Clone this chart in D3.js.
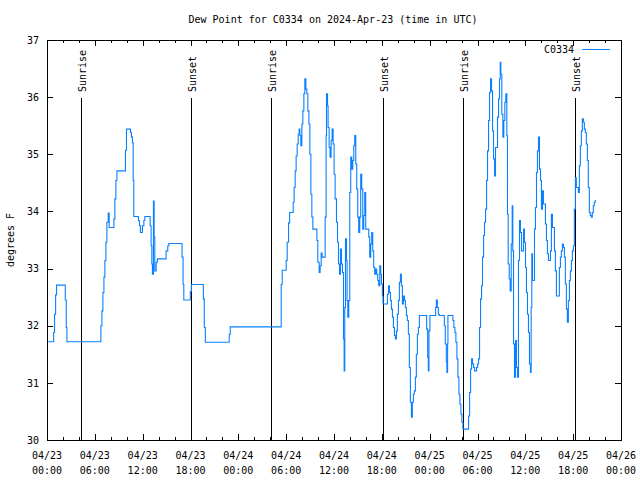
<!DOCTYPE html>
<html><head><meta charset="utf-8">
<script src="https://cdn.jsdelivr.net/npm/d3@7"></script>
<style>
body{margin:0;background:#fff}
text{font-family:"DejaVu Sans Mono",monospace;font-size:10px;fill:#000}
</style>
</head><body><svg id="c" width="640" height="480"></svg>
<script>
// hours since 2024-04-23 00:00 UTC, dew point in °F (step changes)
const hours = [
0.16,0.83,0.95,1.08,1.20,2.29,2.42,2.50,6.76,6.89,7.01,7.14,7.26,7.39,7.51,7.68,7.80,8.39,8.51,8.64,8.77,9.84,9.97,10.47,10.59,10.72,10.81,10.89,11.47,11.60,11.72,11.97,12.15,12.27,12.94,13.06,13.15,13.22,13.35,13.44,13.52,13.69,13.85,14.94,15.15,15.28,16.94,17.07,17.16,17.98,18.11,
19.61,19.73,19.86,22.86,22.99,29.38,29.50,30.00,30.13,30.30,30.43,30.88,31.00,31.13,31.25,31.38,31.51,31.63,31.72,31.84,31.97,32.09,32.22,32.34,32.47,32.59,32.72,32.85,32.97,33.10,33.22,33.35,33.85,33.97,34.14,34.26,34.39,34.51,34.89,35.01,35.06,35.19,35.26,35.39,35.51,35.64,35.76,35.89,36.01,36.14,36.31,36.44,36.56,36.69,36.81,36.94,37.06,37.19,37.27,37.35,37.44,37.57,37.64,37.73,37.85,37.98,38.10,38.23,38.35,38.48,38.60,38.73,38.85,38.98,39.10,39.23,39.35,39.48,39.61,39.73,39.86,39.98,40.36,40.48,40.61,40.73,40.86,40.98,41.11,41.23,41.36,41.49,41.61,41.74,41.86,41.95,42.07,42.15,42.70,42.83,42.95,43.08,43.20,43.33,43.45,43.58,43.70,43.83,43.95,44.08,44.20,44.33,44.45,44.58,44.70,44.83,44.95,45.08,45.20,45.33,45.45,45.58,45.71,45.83,45.96,46.08,46.21,46.33,46.46,46.58,46.71,47.62,47.75,47.83,47.91,48.03,48.75,48.84,48.96,49.09,49.21,
49.84,49.96,50.09,50.16,50.25,50.29,50.92,51.04,51.17,51.29,51.42,51.54,51.67,51.79,51.92,52.04,52.17,52.88,53.01,53.13,53.26,53.38,53.51,53.63,53.88,54.01,54.13,54.26,54.38,54.51,54.63,54.76,54.88,55.01,55.14,55.26,55.39,55.51,55.64,55.76,55.89,56.01,56.14,56.26,56.51,56.64,56.76,56.85,56.93,57.05,57.18,57.30,57.43,57.55,57.68,57.76,57.85,57.98,58.10,58.23,58.35,58.43,58.52,58.64,58.77,58.89,59.02,59.14,59.27,59.39,59.52,59.77,59.89,60.02,60.14,60.27,60.39,60.52,60.64,60.73,60.81,60.90,61.15,61.27,61.40,61.52,61.65,61.77,61.90,62.02,62.15,62.27,62.52,62.65,62.77,62.90,63.15,63.27,63.40,63.65,63.77,63.90,64.27,64.40,64.52,64.65,64.77,64.90,65.02,65.15,65.27,65.40,65.53,65.65,65.78,65.90,66.03,66.15,66.28,66.40,66.65,66.78,66.90,67.03,67.15,67.28,67.40,67.53,67.65,67.78,67.90,68.03,68.15,68.28,68.40,68.53,68.65,68.78
];
const dewPointF = [
31.72,31.88,32.2,32.54,32.71,32.45,31.97,31.72,32.0,32.26,32.58,32.85,33.14,33.46,33.81,33.97,33.72,33.87,34.22,34.54,34.71,35.07,35.44,35.38,35.3,35.2,34.54,33.91,33.84,33.75,33.63,33.75,33.84,33.91,33.75,33.4,33.08,32.9,34.18,33.55,32.96,33.11,33.17,33.31,33.4,33.44,33.2,32.72,32.45,32.6,32.72,
32.47,31.97,31.71,31.85,31.98,32.72,32.97,33.14,33.46,33.8,33.98,34.16,34.42,34.71,34.97,35.18,35.35,35.44,35.33,35.15,35.53,35.76,36.06,36.32,36.14,36.06,35.76,35.53,35.0,34.3,33.9,33.69,33.49,33.11,32.93,33.05,33.27,33.2,33.9,35.33,36.06,35.85,35.47,35.12,34.95,35.24,35.44,35.18,34.65,34.22,33.81,33.46,33.08,32.9,33.34,33.08,32.93,31.77,31.21,32.32,33.52,33.14,32.44,32.15,32.44,34.33,34.95,34.74,34.89,35.15,35.33,34.83,34.39,33.9,33.63,33.9,34.65,34.39,33.69,33.93,34.33,33.69,33.55,33.2,33.43,33.63,33.31,33.02,32.9,32.99,32.9,32.79,32.7,33.05,32.9,32.73,32.52,32.38,32.55,32.7,32.58,32.44,32.29,32.15,31.97,31.83,31.77,31.91,32.2,32.44,32.76,32.9,32.7,32.38,32.52,32.44,32.32,32.18,32.09,31.85,31.27,30.66,30.4,30.66,30.8,30.86,31.1,31.5,31.85,31.97,32.18,31.94,31.45,31.21,31.91,32.18,32.32,32.45,32.32,32.2,32.18,
32.0,31.68,31.36,31.18,31.68,32.18,32.09,31.97,31.88,31.71,31.42,31.1,30.8,30.63,30.45,30.31,30.19,30.42,30.83,31.24,31.42,31.33,31.27,31.21,31.27,31.33,31.42,31.97,32.47,32.7,33.2,33.58,33.81,34.04,34.54,35.06,35.59,36.08,36.32,36.11,35.41,34.92,34.62,35.12,35.65,35.97,36.32,36.61,36.4,35.7,35.3,35.59,35.91,36.06,35.33,33.95,33.08,32.82,32.61,33.43,34.1,33.31,31.68,31.1,31.74,31.27,31.1,33.14,33.84,33.63,33.31,33.69,33.46,33.02,32.58,32.2,31.88,31.33,31.18,32.32,33.26,32.79,33.69,34.07,34.68,35.06,35.3,34.74,34.54,34.04,34.36,34.13,33.78,33.49,33.26,33.14,33.31,33.95,33.72,33.31,32.96,32.52,33.02,33.2,33.31,33.43,33.37,33.2,32.73,32.29,32.06,32.44,32.79,32.96,33.14,33.31,33.4,34.04,34.59,34.42,34.33,34.8,35.15,35.41,35.62,35.56,35.44,35.38,35.18,34.89,34.42,33.98,33.93,33.9,33.98,34.1,34.16,34.2
];
const sunLabels = ["Sunrise","Sunset","Sunrise","Sunset","Sunrise","Sunset"];
const sunHours = [4.21,18.11,28.13,42.15,52.17,66.19];
const yTicks = [30,31,32,33,34,35,36,37];
const xTickHours = [0,6,12,18,24,30,36,42,48,54,60,66,72];
const xTickDates = ["04/23","04/23","04/23","04/23","04/24","04/24","04/24","04/24","04/25","04/25","04/25","04/25","04/26"];
const xTickTimes = ["00:00","06:00","12:00","18:00","00:00","06:00","12:00","18:00","00:00","06:00","12:00","18:00","00:00"];
const xMinorHours = d3.range(0, 73, 2);
const seriesName = "C0334";
const titleText = "Dew Point for C0334 on 2024-Apr-23 (time in UTC)";
const yLabel = "degrees F";

const L = 47, R = 621, T = 40, B = 440;
const svg = d3.select("#c");
const x = d3.scaleLinear().domain([0, 72]).range([L, R]);
const y = d3.scaleLinear().domain([30, 37]).range([B, T]);

// axes (inward ticks, mirrored)
svg.append("g").attr("transform", `translate(0,${B})`)
  .call(d3.axisBottom(x).tickValues(xMinorHours).tickSize(-3).tickSizeOuter(0).tickFormat(""));
svg.append("g").attr("transform", `translate(0,${B})`)
  .call(d3.axisBottom(x).tickValues(xTickHours).tickSize(-6).tickSizeOuter(0).tickFormat(""));
svg.append("g").attr("transform", `translate(0,${T})`)
  .call(d3.axisTop(x).tickValues(xMinorHours).tickSize(-3).tickSizeOuter(0).tickFormat(""));
svg.append("g").attr("transform", `translate(0,${T})`)
  .call(d3.axisTop(x).tickValues(xTickHours).tickSize(-6).tickSizeOuter(0).tickFormat(""));
const gL = svg.append("g").attr("transform", `translate(${L},0)`)
  .call(d3.axisLeft(y).tickValues(yTicks).tickSize(-6).tickSizeOuter(0).tickPadding(8).tickFormat(d3.format("d")));
svg.append("g").attr("transform", `translate(${R},0)`)
  .call(d3.axisRight(y).tickValues(yTicks).tickSize(-6).tickSizeOuter(0).tickFormat(""));
svg.selectAll(".domain").remove();
svg.selectAll(".tick line").attr("stroke", "#000").attr("shape-rendering", "crispEdges");
gL.selectAll("text").attr("font-family", "DejaVu Sans Mono").attr("font-size", 10).attr("fill","#000");

// x labels two lines
const xl = svg.append("g");
xTickHours.forEach((h, i) => {
  const t = xl.append("text").attr("x", x(h)).attr("y", 459).attr("text-anchor", "middle");
  t.append("tspan").attr("x", x(h)).text(xTickDates[i]);
  t.append("tspan").attr("x", x(h)).attr("dy", 15).text(xTickTimes[i]);
});

// frame
svg.append("rect").attr("x", L + 0.5).attr("y", T + 0.5).attr("width", R - L).attr("height", B - T)
  .attr("fill", "none").attr("stroke", "#000").attr("shape-rendering", "crispEdges");

// sunrise / sunset markers
sunHours.forEach((h, i) => {
  const xx = Math.round(x(h)) + 0.5;
  svg.append("line").attr("x1", xx).attr("x2", xx).attr("y1", 98).attr("y2", B)
    .attr("stroke", "#000").attr("stroke-width", 1);
  svg.append("text").attr("transform", `translate(${xx + 4},92) rotate(-90)`)
    .attr("text-anchor", "start").text(sunLabels[i]);
});

// data line
const pts = hours.map((h, i) => [h, dewPointF[i]]);
svg.append("path").datum(pts)
  .attr("fill", "none").attr("stroke", "#0a80ff").attr("stroke-width", 1.1)
  .attr("d", d3.line().x(d => x(d[0])).y(d => y(d[1])).curve(d3.curveStepAfter));

// legend
svg.append("text").attr("x", 574).attr("y", 53).attr("text-anchor", "end").text(seriesName);
svg.append("line").attr("x1", 582).attr("x2", 610).attr("y1", 49.5).attr("y2", 49.5)
  .attr("stroke", "#0a80ff").attr("stroke-width", 1);

// title and y label
svg.append("text").attr("x", 333).attr("y", 23).attr("text-anchor", "middle").text(titleText);
svg.append("text").attr("transform", "translate(14,240) rotate(-90)").attr("text-anchor", "middle").text(yLabel);
</script>
</body></html>
